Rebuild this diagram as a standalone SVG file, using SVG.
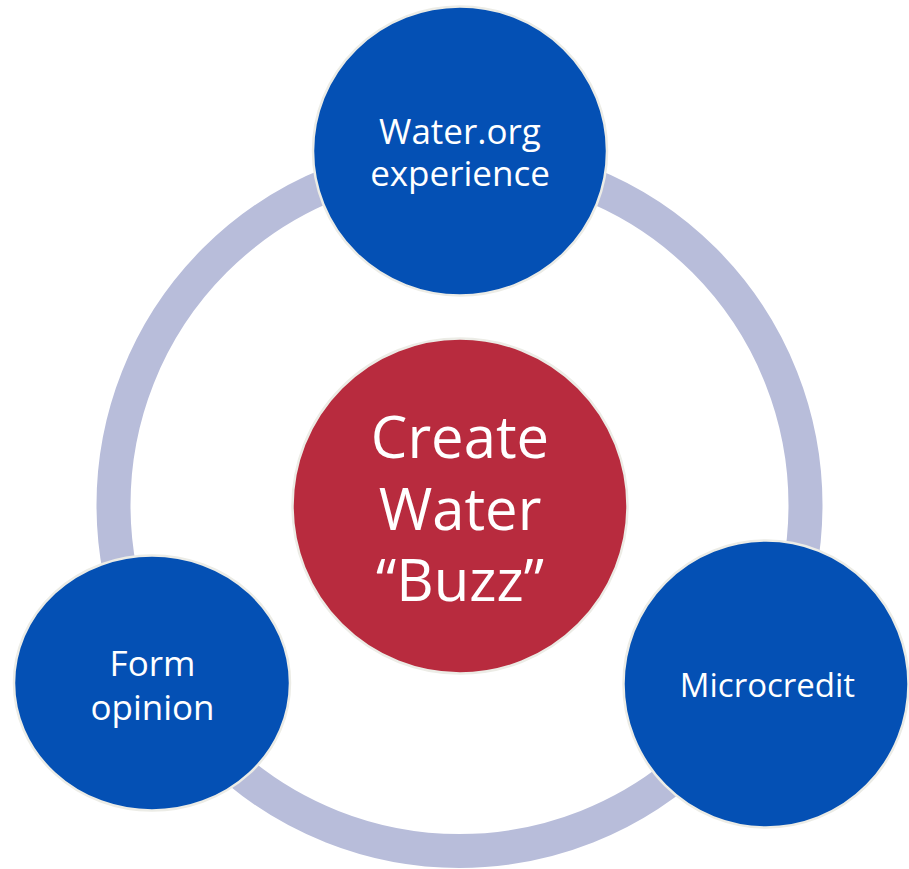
<svg xmlns="http://www.w3.org/2000/svg" width="909" height="869" viewBox="0 0 909 869">
  <style>
    .ring { fill: none; stroke: #b8bdda; stroke-width: 34; }
    .node { stroke: #ecece6; stroke-width: 2.5; }
    .blue { fill: #0450b4; }
    .red { fill: #b82b3e; }
    text { font-family: "Open Sans", "Noto Sans", "Liberation Sans", sans-serif; fill: #ffffff; text-anchor: middle; }
  </style>
  <rect width="909" height="869" fill="#ffffff"/>

  <!-- cycle ring linking the outer nodes -->
  <g id="connectors">
    <circle class="ring" cx="459.5" cy="505" r="346"/>
  </g>

  <g id="node-water-org">
    <ellipse class="node blue" cx="460" cy="151" rx="147" ry="144.5"/>
    <text font-size="35" x="460" y="144">Water.org</text>
    <text font-size="35" x="460" y="186">experience</text>
  </g>

  <g id="node-center">
    <circle class="node red" cx="460" cy="506" r="167.5"/>
    <text font-size="58" x="460" y="458">Create</text>
    <text font-size="58" x="460" y="530">Water</text>
    <text font-size="58" x="460" y="601">“Buzz”</text>
  </g>

  <g id="node-form-opinion">
    <ellipse class="node blue" cx="152" cy="683" rx="138" ry="127.5"/>
    <text font-size="35" x="152.5" y="676">Form</text>
    <text font-size="35" x="152.5" y="720">opinion</text>
  </g>

  <g id="node-microcredit">
    <ellipse class="node blue" cx="766" cy="684" rx="142.5" ry="143.5"/>
    <text font-size="33" x="767.5" y="697">Microcredit</text>
  </g>
</svg>
